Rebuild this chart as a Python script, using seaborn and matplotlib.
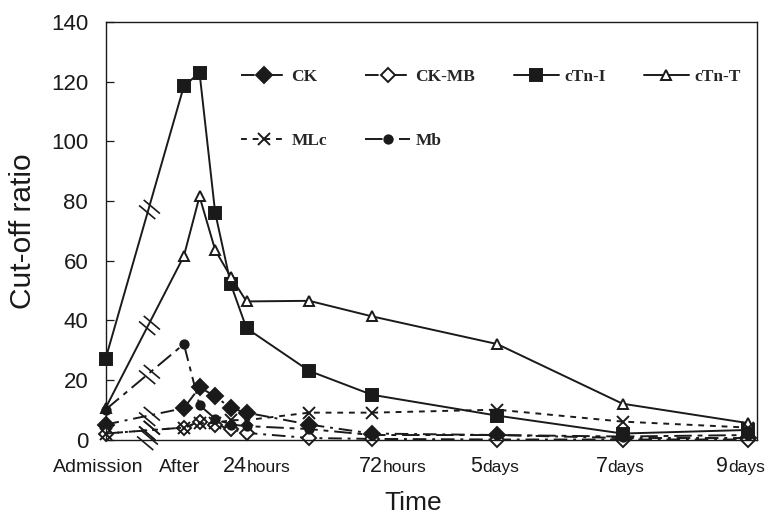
import numpy as np
import matplotlib
matplotlib.use("Agg")
import matplotlib.pyplot as plt
import seaborn as sns
from matplotlib.path import Path

# ---- data -------------------------------------------------------------
hours = [-30, 0, 6, 12, 18, 24, 48, 72, 120, 168, 216]
ck    = [5.0, 10.5, 17.5, 14.5, 10.5, 9.0, 5.0, 2.0, 1.5, 0.5, 0.5]
ck_mb = [2.0, 4.0, 6.0, 5.0, 3.5, 2.2, 0.5, 0.2, 0.0, 0.0, 0.0]
ctn_i = [27.0, 118.5, 123.0, 76.0, 52.0, 37.3, 23.0, 15.0, 8.0, 2.0, 3.2]
ctn_t = [10.5, 61.5, 81.5, 63.5, 54.5, 46.3, 46.5, 41.3, 32.0, 12.0, 5.5]
mlc   = [2.0, 4.0, 5.5, 5.5, 6.5, 6.5, 9.0, 9.0, 10.0, 6.0, 4.0]
mb    = [10.0, 32.0, 11.5, 7.0, 5.0, 4.5, 3.5, 1.5, 1.5, 1.0, 1.5]

series_names = ["CK", "CK-MB", "cTn-I", "cTn-T", "MLc", "Mb"]
label_hours = [-30, 0, 24, 72, 120, 168, 216]
label_main = ["Admission", "After", "24", "72", "5", "7", "9"]
label_unit = ["", "", "hours", "hours", "days", "days", "days"]
yticks = [0, 20, 40, 60, 80, 100, 120, 140]

# ---- style ------------------------------------------------------------
sns.set_theme(style="white")
plt.rcParams["font.family"] = ["Liberation Sans", "DejaVu Sans"]

fig = plt.figure(figsize=(7.72, 5.15), dpi=100)
ax = fig.add_axes([0.1367, 0.1466, 0.8439, 0.8107])

styles = {
    "CK":    dict(marker="D", markersize=8, markerfacecolor="k", linestyle=(0, (7, 3, 1.5, 3))),
    "CK-MB": dict(marker="D", markersize=7.5, markerfacecolor="w", linestyle=(0, (7, 3, 1.5, 3))),
    "cTn-I": dict(marker="s", markersize=8.5, markerfacecolor="k", linestyle="-"),
    "cTn-T": dict(marker="^", markersize=7, markerfacecolor="w", linestyle="-"),
    "MLc":   dict(marker="x", markersize=8, markerfacecolor="k", linestyle=(0, (3, 3))),
    "Mb":    dict(marker="o", markersize=6, markerfacecolor="k", linestyle=(0, (9, 3, 2.5, 3))),
}
values = {"CK": ck, "CK-MB": ck_mb, "cTn-I": ctn_i, "cTn-T": ctn_t, "MLc": mlc, "Mb": mb}

handles = {}
for name in series_names:
    sns.lineplot(x=hours, y=values[name], ax=ax, color="k", linewidth=1.4,
                 markeredgecolor="k", markeredgewidth=1.4, label=name,
                 legend=False, clip_on=False, **styles[name])
    handles[name] = ax.lines[-1]

# axis-break marks on the Admission -> After segments
ang = np.deg2rad(-40)
d = np.array([np.cos(ang), np.sin(ang)])
n = np.array([-np.sin(ang), np.cos(ang)])
g = 0.17
verts = [tuple(-0.5 * d + g * n), tuple(0.5 * d + g * n),
         tuple(-0.5 * d - g * n), tuple(0.5 * d - g * n)]
brk = Path(verts, [Path.MOVETO, Path.LINETO, Path.MOVETO, Path.LINETO])
f = 0.55
bx, by = [], []
for name in series_names:
    v = values[name]
    bx.append(hours[0] + f * (hours[1] - hours[0]))
    by.append(v[0] + f * (v[1] - v[0]))
bx.append(hours[0] + 0.53 * (hours[1] - hours[0]))
by.append(0)
ax.plot(bx, by, linestyle="none", marker=brk, markersize=15, markeredgecolor="k",
        markeredgewidth=1.2, clip_on=False)

ax.set_xlim(-30, 219.5)
ax.set_ylim(0, 140)
ax.set_yticks(yticks)
ax.set_xticks([])
ax.tick_params(axis="y", left=True, direction="in", length=6, width=0.9,
               pad=12.5, labelsize=16, colors="k")
for s in ax.spines.values():
    s.set_color("k")
    s.set_linewidth(1.0)
ax.set_xlabel("")
ax.set_ylabel("")

# x labels
offs = [-7, -4, 0, 11, -15, -15, -20]
for h, m, u, o in zip(label_hours, label_main, label_unit, offs):
    if u == "":
        ax.annotate(m, xy=(h, 0), xycoords=("data", "axes fraction"),
                    xytext=(o, -32), textcoords="offset pixels",
                    ha="center", va="baseline", fontsize=14, color="k",
                    annotation_clip=False)
    else:
        ax.annotate(m, xy=(h, 0), xycoords=("data", "axes fraction"),
                    xytext=(o, -32), textcoords="offset pixels",
                    ha="right", va="baseline", fontsize=15.5, color="k",
                    annotation_clip=False)
        ax.annotate(u, xy=(h, 0), xycoords=("data", "axes fraction"),
                    xytext=(o, -32), textcoords="offset pixels",
                    ha="left", va="baseline", fontsize=12.5, color="k",
                    annotation_clip=False)

ax.text(0.472, -0.169, "Time", transform=ax.transAxes, ha="center",
        va="baseline", fontsize=19, color="k")
ax.text(-0.1266, 0.498, "Cut-off ratio", transform=ax.transAxes, ha="center",
        va="center", rotation=90, fontsize=21.5, color="k")

order = ["CK", "MLc", "CK-MB", "Mb", "cTn-I", "cTn-T"]
ax.legend([handles[k] for k in order], order, ncol=4, frameon=False,
          loc="upper left", bbox_to_anchor=(0.208, 0.887), borderaxespad=0,
          borderpad=0, handlelength=2.6, handletextpad=0.3, columnspacing=2.2,
          labelspacing=2.75,
          prop={"family": "Liberation Serif", "weight": "bold", "size": 12.5})

fig.savefig("out.png", dpi=100)
